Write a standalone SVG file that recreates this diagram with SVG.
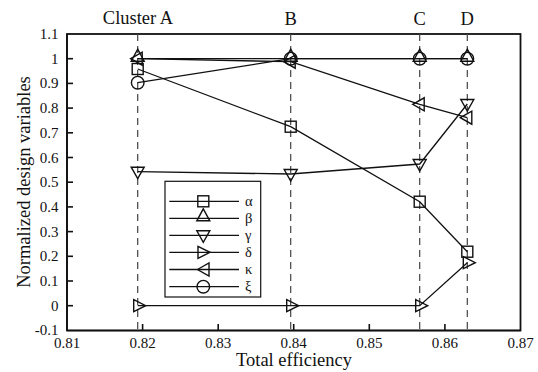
<svg xmlns="http://www.w3.org/2000/svg" xmlns:xlink="http://www.w3.org/1999/xlink" width="538" height="372" viewBox="0 0 538 372">
<style>
text{font-family:"Liberation Serif","Times New Roman",serif;fill:#111}
.tk{font-size:15px}
.lb{font-size:18.5px}
.lg{font-size:14.5px}
.ax{fill:none;stroke:#111;stroke-width:1.8}
.tick{stroke:#111;stroke-width:1.6}
.dash{stroke:#444;stroke-width:1.2;stroke-dasharray:7 5;fill:none}
.ser{fill:none;stroke:#111;stroke-width:1.3}
.mk{fill:none;stroke:#111;stroke-width:1.4}
</style>
<defs>
<rect id="sq" class="mk" x="-5.5" y="-5.5" width="11" height="11"/>
<polygon id="up" class="mk" points="0,-9.5 6.5,2.5 -6.5,2.5"/>
<polygon id="dn" class="mk" points="-6.5,-4.5 6.5,-4.5 0,7"/>
<polygon id="rt" class="mk" points="-4,-6 8,0 -4,6"/>
<polygon id="lt" class="mk" points="-7,0 4.5,-6.5 4.5,6.5"/>
<circle id="ci" class="mk" r="6.3"/>
</defs>

<g id="axes">
<rect class="ax" x="67" y="34" width="453.5" height="296.5"/>
<line class="tick" x1="67" y1="34" x2="67" y2="330.5" stroke-width="2.2"/>
<line class="tick" x1="67" y1="330.5" x2="520.5" y2="330.5" stroke-width="2.2"/>
<g class="tick">
<line x1="67" y1="305.7" x2="73" y2="305.7"/>
<line x1="67" y1="281" x2="73" y2="281"/>
<line x1="67" y1="256.3" x2="73" y2="256.3"/>
<line x1="67" y1="231.6" x2="73" y2="231.6"/>
<line x1="67" y1="206.9" x2="73" y2="206.9"/>
<line x1="67" y1="182.2" x2="73" y2="182.2"/>
<line x1="67" y1="157.5" x2="73" y2="157.5"/>
<line x1="67" y1="132.8" x2="73" y2="132.8"/>
<line x1="67" y1="108.1" x2="73" y2="108.1"/>
<line x1="67" y1="83.4" x2="73" y2="83.4"/>
<line x1="67" y1="58.7" x2="73" y2="58.7"/>
<line x1="142.6" y1="330.5" x2="142.6" y2="324"/>
<line x1="218.2" y1="330.5" x2="218.2" y2="324"/>
<line x1="293.7" y1="330.5" x2="293.7" y2="324"/>
<line x1="369.3" y1="330.5" x2="369.3" y2="324"/>
<line x1="444.9" y1="330.5" x2="444.9" y2="324"/>
</g>
<g class="tk" text-anchor="end">
<text x="58.5" y="335.4">-0.1</text>
<text x="58.5" y="310.7">0</text>
<text x="58.5" y="286">0.1</text>
<text x="58.5" y="261.3">0.2</text>
<text x="58.5" y="236.6">0.3</text>
<text x="58.5" y="211.9">0.4</text>
<text x="58.5" y="187.2">0.5</text>
<text x="58.5" y="162.5">0.6</text>
<text x="58.5" y="137.8">0.7</text>
<text x="58.5" y="113.1">0.8</text>
<text x="58.5" y="88.4">0.9</text>
<text x="58.5" y="63.7">1</text>
<text x="58.5" y="39">1.1</text>
</g>
<g class="tk" text-anchor="middle">
<text x="67" y="348">0.81</text>
<text x="142.6" y="348">0.82</text>
<text x="218.2" y="348">0.83</text>
<text x="293.7" y="348">0.84</text>
<text x="369.3" y="348">0.85</text>
<text x="444.9" y="348">0.86</text>
<text x="520.5" y="348">0.87</text>
</g>
<text class="lb" x="294" y="366" text-anchor="middle">Total efficiency</text>
<text class="lb" transform="translate(30,182) rotate(-90)" text-anchor="middle">Normalized design variables</text>
</g>

<g id="clusters">
<line class="dash" x1="137.7" y1="34" x2="137.7" y2="330.5"/>
<line class="dash" x1="290.7" y1="34" x2="290.7" y2="330.5"/>
<line class="dash" x1="419.7" y1="34" x2="419.7" y2="330.5"/>
<line class="dash" x1="467.3" y1="34" x2="467.3" y2="330.5"/>
<g class="lb" text-anchor="middle">
<text x="138" y="24">Cluster A</text>
<text x="290.7" y="25">B</text>
<text x="419.7" y="25">C</text>
<text x="467.3" y="25">D</text>
</g>
</g>

<g id="connectors">
<polyline class="ser" points="137.7,69 290.7,126.7 419.7,201.7 467.3,251.7"/>
<polyline class="ser" points="137.7,58.7 290.7,58.7 419.7,58.7 467.3,58.7"/>
<polyline class="ser" points="137.7,171.7 290.7,174 419.7,164 467.3,104"/>
<polyline class="ser" points="137.7,305.7 290.7,305.7 419.7,305.7 467.3,262.7"/>
<polyline class="ser" points="137.7,58.7 290.7,61.7 419.7,104.3 467.3,117.7"/>
<polyline class="ser" points="137.7,82.7 290.7,58.7 419.7,58.7 467.3,58.7"/>
</g>

<g id="alpha">
<use xlink:href="#sq" x="137.7" y="69"/>
<use xlink:href="#sq" x="290.7" y="126.7"/>
<use xlink:href="#sq" x="419.7" y="201.7"/>
<use xlink:href="#sq" x="467.3" y="251.7"/>
</g>
<g id="beta">
<use xlink:href="#up" x="137.7" y="58.7"/>
<use xlink:href="#up" x="290.7" y="58.7"/>
<use xlink:href="#up" x="419.7" y="58.7"/>
<use xlink:href="#up" x="467.3" y="58.7"/>
</g>
<g id="gamma">
<use xlink:href="#dn" x="137.7" y="171.7"/>
<use xlink:href="#dn" x="290.7" y="174"/>
<use xlink:href="#dn" x="419.7" y="164"/>
<use xlink:href="#dn" x="467.3" y="104"/>
</g>
<g id="delta">
<use xlink:href="#rt" x="137.7" y="305.7"/>
<use xlink:href="#rt" x="290.7" y="305.7"/>
<use xlink:href="#rt" x="419.7" y="305.7"/>
<use xlink:href="#rt" x="467.3" y="262.7"/>
</g>
<g id="kappa">
<use xlink:href="#lt" x="137.7" y="58.7"/>
<use xlink:href="#lt" x="290.7" y="61.7"/>
<use xlink:href="#lt" x="419.7" y="104.3"/>
<use xlink:href="#lt" x="467.3" y="117.7"/>
</g>
<g id="xi">
<use xlink:href="#ci" x="137.7" y="82.7"/>
<use xlink:href="#ci" x="290.7" y="58.7"/>
<use xlink:href="#ci" x="419.7" y="58.7"/>
<use xlink:href="#ci" x="467.3" y="58.7"/>
</g>

<g id="legend">
<rect x="165" y="181.3" width="95.7" height="115.7" fill="#fff" stroke="#111" stroke-width="1.2"/>
<g class="ser">
<line x1="169.3" y1="201.3" x2="239" y2="201.3"/>
<line x1="169.3" y1="218.3" x2="239" y2="218.3"/>
<line x1="169.3" y1="235.3" x2="239" y2="235.3"/>
<line x1="169.3" y1="252.3" x2="239" y2="252.3"/>
<line x1="169.3" y1="269.5" x2="239" y2="269.5"/>
<line x1="169.3" y1="286.7" x2="239" y2="286.7"/>
</g>
<use xlink:href="#sq" x="203.3" y="201.3"/>
<use xlink:href="#up" x="203.3" y="218.3"/>
<use xlink:href="#dn" x="203.3" y="235.3"/>
<use xlink:href="#rt" x="202" y="252.3"/>
<use xlink:href="#lt" x="204.5" y="269.5"/>
<use xlink:href="#ci" x="203.3" y="286.7"/>
<g class="lg">
<text x="245" y="205.5">α</text>
<text x="245" y="222.5">β</text>
<text x="245" y="239.5">γ</text>
<text x="245" y="256.5">δ</text>
<text x="245" y="273.7">κ</text>
<text x="245" y="290.9">ξ</text>
</g>
</g>
</svg>
